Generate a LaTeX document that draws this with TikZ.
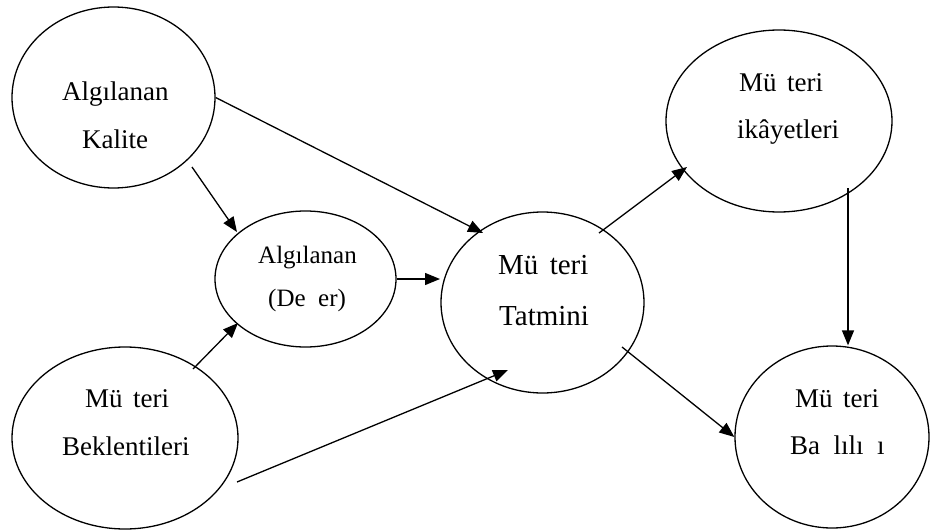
\documentclass[tikz,border=0pt]{standalone}
\usepackage{fontspec}
\setmainfont{Liberation Serif}
\usetikzlibrary{arrows.meta,calc,shapes.geometric}
\newcommand\gapsh{\ \hspace{0.14em}}
\newcommand\gapgh{\ \hspace{0.25em}}
\tikzset{
  ell/.style={draw, ellipse, line width=1.3pt, inner sep=0pt},
  lbl/.style={anchor=base west, inner sep=0pt, font=\fontsize{27}{27}\selectfont},
  lblsmall/.style={lbl, font=\fontsize{25}{25}\selectfont},
  lblbig/.style={lbl, font=\fontsize{29}{29}\selectfont},
  arr/.style={line width=1.3pt, -{Triangle[length=15pt,width=12pt]}},
}
\begin{document}
\begin{tikzpicture}[x=1pt,y=-1pt]
\useasboundingbox (0,0) rectangle (930,530);
% ellipses
\node[ell, minimum width=203pt, minimum height=181pt] (kal) at (113.5,97.5) {};
\node[ell, minimum width=181pt, minimum height=136pt] (deg) at (305.5,279) {};
\node[ell, minimum width=203pt, minimum height=181pt] (tat) at (542.5,302.5) {};
\node[ell, minimum width=226pt, minimum height=182pt] (sik) at (779,121) {};
\node[ell, minimum width=226pt, minimum height=182pt] (bek) at (125,438) {};
\node[ell, minimum width=194pt, minimum height=182pt] (bag) at (832,437) {};
% labels
\node[lbl] (kal1) at (62,100) {Algılanan};
\node[lbl] (kal2) at (82,148) {Kalite};
\node[lblsmall] (deg1) at (258,263) {Algılanan};
\node[lblsmall] (deg2) at (268,306) {(De\gapgh er)};
\node[lblbig] (tat1) at (498,274) {Mü\gapsh teri};
\node[lblbig] (tat2) at (499,325) {Tatmini};
\node[lbl] (sik1) at (739,91) {Mü\gapsh teri};
\node[lbl] (sik2) at (737,138) {ikâyetleri};
\node[lbl] (bek1) at (85,407) {Mü\gapsh teri};
\node[lbl] (bek2) at (62,455) {Beklentileri};
\node[lbl] (bag1) at (795,407) {Mü\gapsh teri};
\node[lbl] (bag2) at (790,454) {Ba\gapgh lılı\gapgh ı};
% connectors
\draw[arr] (kal.east) -- ($(tat)+(-59.5,-69.5)$);
\draw[arr] ($(kal)+(78.5,69.5)$) -- ($(deg)+(-68.5,-47)$);
\draw[arr] ($(bek)+(68,-69)$) -- ($(deg)+(-67.5,44)$);
\draw[arr] (deg.east) -- ($(tat)+(-102.5,-23.5)$);
\draw[arr] ($(bek)+(112,44)$) -- ($(tat)+(-34.5,67.5)$);
\draw[arr] ($(tat)+(56.5,-69.5)$) -- ($(sik)+(-92,46)$);
\coordinate (s7) at ($(sik)+(69,67)$);
\draw[arr] (s7) -- (s7 |- bag.north);
\draw[arr] ($(tat)+(79.5,44.5)$) -- (bag.west);
\end{tikzpicture}
\end{document}
